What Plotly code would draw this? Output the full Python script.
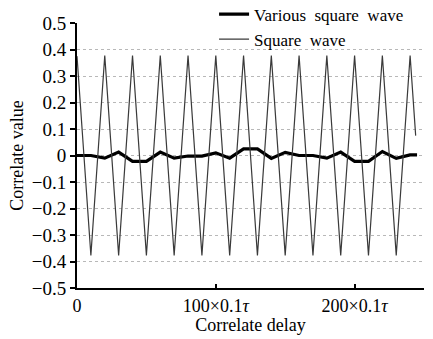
import plotly.graph_objects as go

# Square wave correlation (triangle-like), sampled at vertices
sq_x = [0, 10, 20, 30, 40, 50, 60, 70, 80, 90, 100, 110, 120, 130, 140, 150,
        160, 170, 180, 190, 200, 210, 220, 230, 240, 244]
sq_y = [0.375, -0.377, 0.377, -0.377, 0.377, -0.377, 0.377, -0.377, 0.377, -0.377,
        0.377, -0.377, 0.377, -0.377, 0.377, -0.377, 0.377, -0.377, 0.377, -0.377,
        0.377, -0.377, 0.377, -0.377, 0.377, 0.075]

# Various square wave correlation
vs_x = [0, 10, 20, 30, 40, 50, 60, 70, 80, 90, 100, 110, 120, 130, 140, 150,
        160, 170, 180, 190, 200, 210, 220, 230, 240, 245]
vs_y = [0.0, 0.0, -0.01, 0.013, -0.022, -0.022, 0.013, -0.01, -0.002, -0.002,
        0.01, -0.01, 0.025, 0.025, -0.011, 0.012, 0.0, 0.0, -0.01, 0.013,
        -0.022, -0.022, 0.015, -0.011, 0.002, 0.002]

y_ticks = [-0.5, -0.4, -0.3, -0.2, -0.1, 0, 0.1, 0.2, 0.3, 0.4, 0.5]
y_labels = ["\u22120.5", "\u22120.4", "\u22120.3", "\u22120.2", "\u22120.1", "0",
            "0.1", "0.2", "0.3", "0.4", "0.5"]
x_ticks = [0, 100, 200]
x_labels = ["0", "100\u00d70.1<i>\u03c4</i>", "200\u00d70.1<i>\u03c4</i>"]

SP = "\u00a0 "
FONT = "Liberation Serif"

fig = go.Figure()
fig.add_trace(go.Scatter(x=vs_x, y=vs_y, mode="lines",
                         name="Various" + SP + "square" + SP + "wave",
                         line=dict(color="#000000", width=3.2)))
fig.add_trace(go.Scatter(x=sq_x, y=sq_y, mode="lines",
                         name="Square" + SP + "wave",
                         line=dict(color="#3a3a3a", width=1.2)))

fig.update_layout(
    width=433, height=339,
    margin=dict(l=77, r=9, t=23, b=51, autoexpand=False),
    paper_bgcolor="white", plot_bgcolor="white",
    font=dict(family=FONT, size=17, color="black"),
    showlegend=True,
    legend=dict(x=0.395, y=1.1, xanchor="left", yanchor="top",
                bgcolor="rgba(0,0,0,0)", font=dict(family=FONT, size=17),
                itemwidth=30, tracegroupgap=0),
    xaxis=dict(range=[0, 250], tickvals=x_ticks, ticktext=x_labels,
               ticks="inside", ticklen=4, tickwidth=1.5, tickcolor="black",
               showline=True, linecolor="black", linewidth=1.8,
               showgrid=False, zeroline=False,
               title=dict(text="Correlate delay", standoff=4,
                          font=dict(family=FONT, size=18)),
               tickfont=dict(family=FONT, size=18)),
    yaxis=dict(range=[-0.5, 0.5], tickvals=y_ticks, ticktext=y_labels,
               ticks="outside", ticklen=5, tickwidth=1.5, tickcolor="black",
               showline=True, linecolor="black", linewidth=1.8,
               showgrid=True, gridcolor="#b8b8b8", griddash="dot", gridwidth=1,
               zeroline=False,
               title=dict(text="Correlate value", standoff=4,
                          font=dict(family=FONT, size=18)),
               tickfont=dict(family=FONT, size=19)),
)

fig.write_html("out.html", config={"displayModeBar": False},
               post_script="document.body.style.margin='0px';document.body.style.padding='0px';")
